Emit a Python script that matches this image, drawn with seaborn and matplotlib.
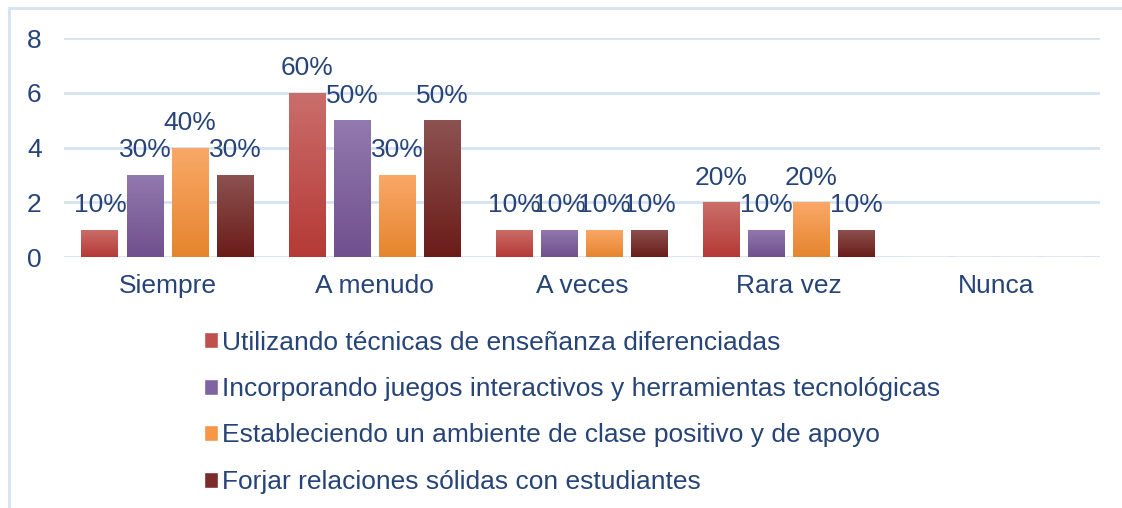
import numpy as np
import pandas as pd
import matplotlib
matplotlib.use("Agg")
import matplotlib.pyplot as plt
from matplotlib.colors import LinearSegmentedColormap
from matplotlib.patches import Patch, Rectangle
import seaborn as sns

# ------------------------
# DATA
# ------------------------
categories = ["Siempre", "A menudo", "A veces", "Rara vez", "Nunca"]
series = [
    "Utilizando técnicas de enseñanza diferenciadas",
    "Incorporando juegos interactivos y herramientas tecnológicas",
    "Estableciendo un ambiente de clase positivo y de apoyo",
    "Forjar relaciones sólidas con estudiantes",
]
tecnicas = [1, 6, 1, 2, 0]
juegos = [3, 5, 1, 1, 0]
ambiente = [4, 3, 1, 2, 0]
relaciones = [3, 5, 1, 1, 0]
total_resp = 10

# base colour + (top, bottom) gradient colours
colors = ["#C0504D", "#8064A2", "#F79646", "#7B2C2A"]
grads = [("#CA6E6B", "#B53A36"), ("#9279AE", "#70508E"),
         ("#FAA868", "#E5852E"), ("#8C5250", "#6B1C19")]

TEXT = "#264478"
GRID = "#D6E2F2"

df = pd.DataFrame({
    "cat": categories * 4,
    "serie": np.repeat(series, len(categories)),
    "val": tecnicas + juegos + ambiente + relaciones,
})

sns.set_style("white")
plt.rcParams["font.family"] = ["Liberation Sans", "DejaVu Sans"]

fig = plt.figure(figsize=(11.22, 5.08), dpi=100)
ax = fig.add_axes([0.057, 0.494, 0.923, 0.431])

sns.barplot(data=df, x="cat", y="val", hue="serie", palette=colors,
            width=0.87, gap=0.18, ax=ax, legend=False, saturation=1)

ax.set_ylim(0, 8)
ax.set_xlim(-0.5, len(categories) - 0.5)
ax.set_yticks([0, 2, 4, 6, 8])
ax.set_axisbelow(True)
ax.grid(axis="y", color=GRID, lw=2)
for s in ax.spines.values():
    s.set_visible(False)
ax.set_xlabel("")
ax.set_ylabel("")
ax.tick_params(axis="both", length=0, labelsize=19, colors=TEXT)
ax.tick_params(axis="y", pad=16)
ax.tick_params(axis="x", pad=12)

# gradient fill + percent labels
for i, cont in enumerate(ax.containers):
    cmap = LinearSegmentedColormap.from_list("g%d" % i, [grads[i][1], grads[i][0]])
    for bar, v in zip(cont, [tecnicas, juegos, ambiente, relaciones][i]):
        x0, w, h = bar.get_x(), bar.get_width(), bar.get_height()
        if h <= 0:
            continue
        bar.set_alpha(0)
        grad = np.linspace(0, 1, 100).reshape(-1, 1)
        im = ax.imshow(grad, extent=(x0, x0 + w, 0, h), origin="lower",
                       cmap=cmap, aspect="auto", zorder=2)
        clip = Rectangle((x0, 0), w, h, transform=ax.transData)
        im.set_clip_path(clip)
        ax.annotate(f"{v * 100 // total_resp}%", (x0 + w / 2, h),
                    xytext=(0, 9), textcoords="offset points",
                    ha="center", va="bottom", fontsize=19, color=TEXT)

ax.set_xlim(-0.5, len(categories) - 0.5)
ax.set_ylim(0, 8)

handles = [Patch(facecolor=c) for c in colors]
fig.legend(handles, series, loc="upper left", bbox_to_anchor=(0.172, 0.370),
           frameon=False, fontsize=19, labelcolor=TEXT,
           handlelength=0.55, handleheight=0.55, handletextpad=0.15,
           labelspacing=0.85, borderaxespad=0)

# outer chart border (cropped on right and bottom)
fig.add_artist(Rectangle((9 / 1122, -0.1), 1.2, 1.1 - 8 / 508,
                         transform=fig.transFigure, fill=False,
                         edgecolor=GRID, lw=2))

fig.savefig("out.png", dpi=100)
